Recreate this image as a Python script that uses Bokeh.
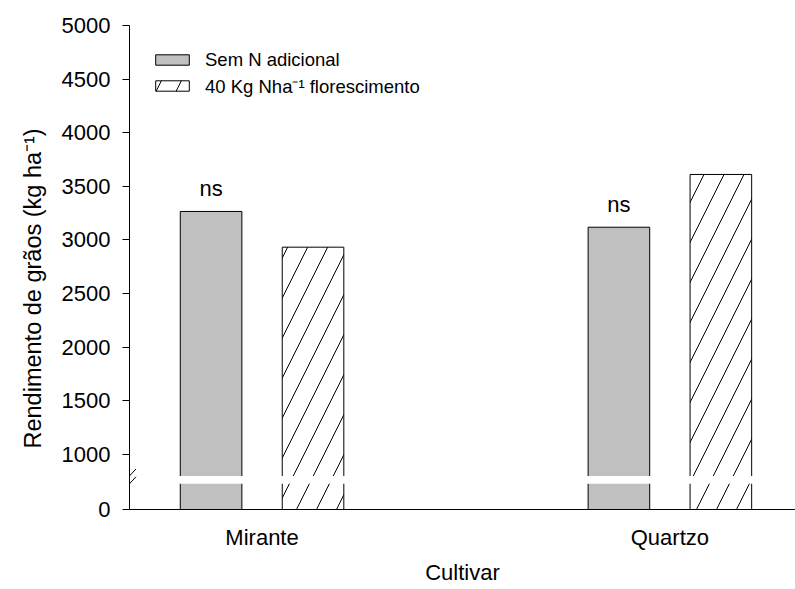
from bokeh.plotting import figure
from bokeh.models import (Range1d, FixedTicker, Legend, LegendItem, Arrow,
                          ColumnDataSource, Title)
from bokeh.core.properties import value
from bokeh.embed import file_html
from bokeh.resources import INLINE

# ---- data ----
categories = ["Mirante", "Quartzo"]
sem_n = [3266, 3119]          # Sem N adicional
com_n = [2933, 3611]          # 40 Kg Nha-1 florescimento
sig_labels = ["ns", "ns"]
series_names = ["Sem N adicional", "40 Kg Nha\u207b\u00b9 florescimento"]
y_tick_values = [0, 1000, 1500, 2000, 2500, 3000, 3500, 4000, 4500, 5000]
x_title = "Cultivar"
y_title = "Rendimento de grãos (kg ha\u207b\u00b9)"

# ---- broken axis setup ----
LOW_MAX = 240      # top of lower segment (value units)
HIGH_MIN = 800     # bottom of upper segment
GAP = 73           # visual gap (display units)
SHIFT = HIGH_MIN - GAP - LOW_MAX


def disp(v):
    return v if v >= HIGH_MIN else v + SHIFT


FONT = "Liberation Sans"
X_MIN, X_MAX = 0.675, 2.308
Y_MIN, Y_MAX = disp(0), 5000
W, H = 795, 589
BL, BR, BT, BB = 129, 0, 25, 80

p = figure(width=W, height=H, output_backend="svg", toolbar_location=None,
           x_range=Range1d(X_MIN, X_MAX), y_range=Range1d(Y_MIN, Y_MAX),
           min_border_left=BL, min_border_right=BR, min_border_top=BT,
           min_border_bottom=BB)
p.outline_line_color = None
p.grid.visible = False
p.background_fill_color = "white"
p.border_fill_color = "white"

px_x = (X_MAX - X_MIN) / (W - BL - BR)
px_y = (Y_MAX - Y_MIN) / (H - BT - BB)

xpos = [i + 1 for i in range(len(categories))]
OFF, BW = 0.125, 0.151

src = ColumnDataSource(dict(
    x1=[x - OFF for x in xpos], x2=[x + OFF for x in xpos],
    top1=[disp(v) for v in sem_n], top2=[disp(v) for v in com_n],
    bottom=[disp(0)] * len(xpos), lab=sig_labels,
))

r1 = p.vbar(x="x1", top="top1", bottom="bottom", width=BW, source=src,
            fill_color="#c0c0c0", line_color="black", line_width=1)
r2 = p.vbar(x="x2", top="top2", bottom="bottom", width=BW, source=src,
            fill_color="white", line_color="black", line_width=1,
            hatch_pattern="/", hatch_color="black", hatch_weight=1, hatch_scale=40)

# gap of the broken axis
p.quad(left=[X_MIN], right=[X_MAX], bottom=[disp(LOW_MAX)], top=[HIGH_MIN],
       fill_color="white", line_color=None)

p.text(x="x1", y="top1", text="lab", source=src, text_align="center",
       text_baseline="bottom", y_offset=-10, text_font=value(FONT),
       text_font_size="22px", text_color="black")

# break marks on the y axis
for yc in [HIGH_MIN, disp(LOW_MAX)]:
    p.add_layout(Arrow(end=None, x_start=X_MIN - 6.5 * px_x, y_start=yc - 7 * px_y,
                       x_end=X_MIN + 6.5 * px_x, y_end=yc + 7 * px_y,
                       line_color="black", line_width=1))

# axes
ya = p.yaxis[0]
ya.ticker = FixedTicker(ticks=[disp(v) for v in y_tick_values])
ya.major_label_overrides = {disp(v): str(v) for v in y_tick_values}
ya.minor_tick_line_color = None
ya.major_tick_in = 0
ya.major_tick_out = 7
ya.major_label_standoff = 12

xa = p.xaxis[0]
xa.ticker = FixedTicker(ticks=xpos)
xa.major_label_overrides = {x: c for x, c in zip(xpos, categories)}
xa.minor_tick_line_color = None
xa.major_tick_line_color = None
xa.major_tick_in = 0
xa.major_tick_out = 0
xa.major_label_standoff = 15

for ax in (xa, ya):
    ax.axis_line_color = "black"
    ax.axis_line_width = 1
    ax.major_label_text_font = FONT
    ax.major_label_text_font_size = "22px"
    ax.major_label_text_color = "black"

# axis titles
p.add_layout(Title(text=x_title, align="center", offset=-7.5, standoff=10,
                   vertical_align="bottom", text_baseline="middle",
                   text_font=FONT, text_font_size="22px", text_font_style="normal",
                   text_color="black"), "below")
p.add_layout(Title(text=y_title, align="left", offset=61, standoff=26,
                   text_font=FONT, text_font_size="23.5px", text_font_style="normal",
                   text_color="black"), "left")

legend = Legend(items=[LegendItem(label=series_names[0], renderers=[r1]),
                       LegendItem(label=series_names[1], renderers=[r2])],
                location="top_left", margin=22, padding=24, spacing=1,
                glyph_width=42, glyph_height=13, label_standoff=12,
                label_height=25, label_text_font=FONT,
                label_text_font_size="18.5px", label_text_color="black",
                background_fill_alpha=0, border_line_color=None)
p.add_layout(legend)

open("out.html", "w").write(file_html(p, INLINE))
